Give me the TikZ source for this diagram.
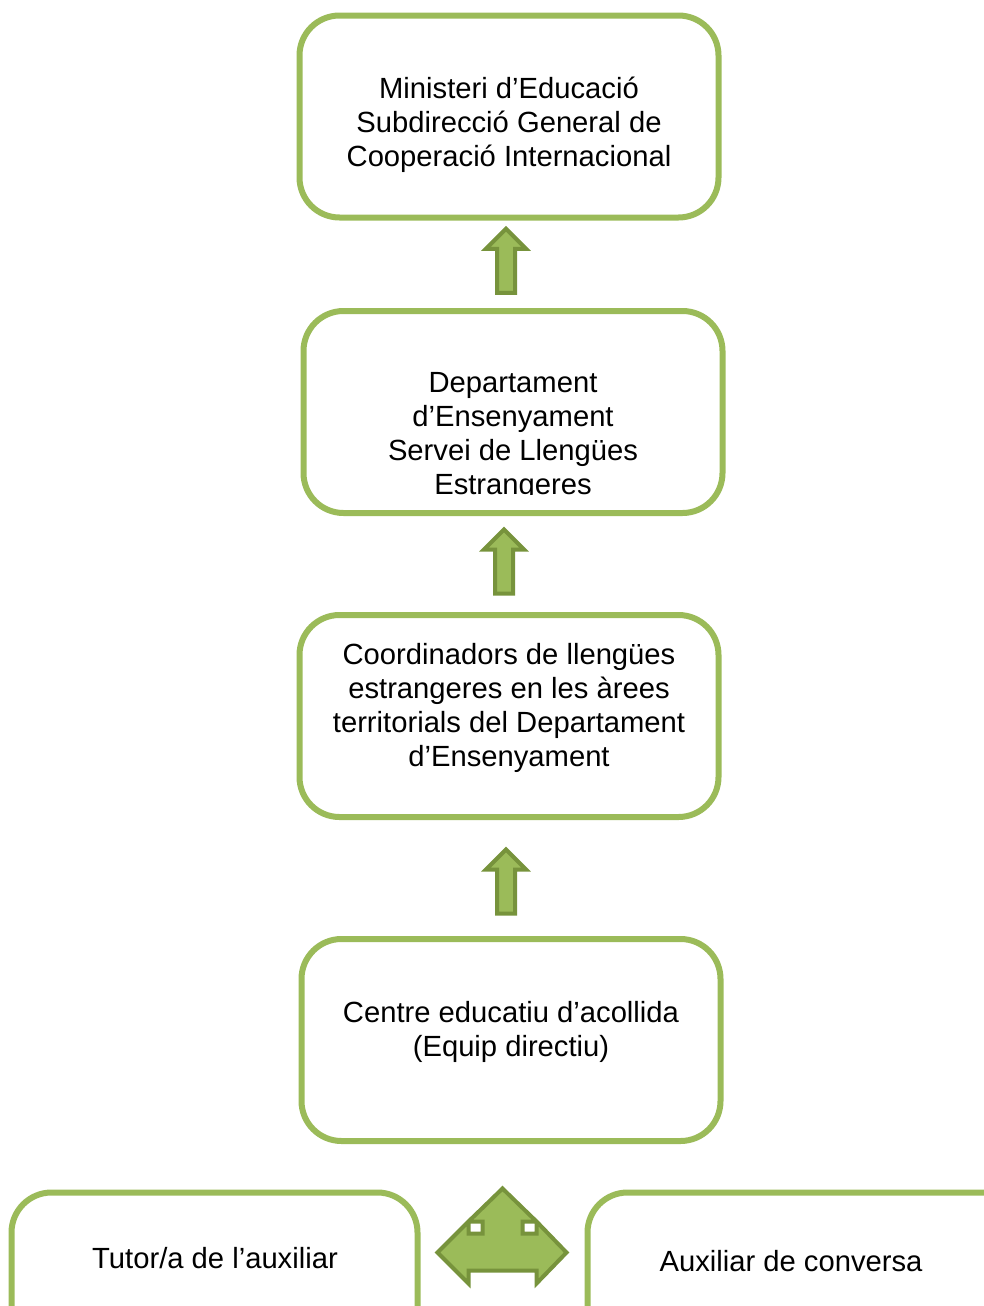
\documentclass[tikz,border=0pt]{standalone}
\usepackage{fontspec}
\setmainfont{Liberation Sans}
\usetikzlibrary{shapes.arrows,calc}
\definecolor{boxgreen}{HTML}{9BBB59}
\definecolor{arrowdark}{HTML}{77933C}
\tikzset{
  box/.style={draw=boxgreen, line width=3pt, rounded corners=20pt, inner sep=0pt,
    minimum width=209.5pt, minimum height=101pt},
  txt/.style={align=center, inner sep=0pt, font=\fontsize{14.6}{17}\selectfont},
  uparrow/.style={single arrow, draw=arrowdark, fill=boxgreen, line width=2pt,
    rotate=90, inner sep=3.5pt, minimum height=32pt, minimum width=18.5pt,
    single arrow head extend=5.5pt}
}

\begin{document}
\begin{tikzpicture}[x=0.5pt, y=-0.5pt]
\useasboundingbox (0,0) rectangle (984,1306);
\clip (0,0) rectangle (984,1306);
\node [box] (minist) at (509,116.5) {};
\node [box] (dept) at (513,412) {};
\node [box] (coord) at (509,716) {};
\node [box] (centre) at (511,1040) {};
\node [box, minimum width=203pt, minimum height=110pt] (tutor) at (214.5,1302.5) {};
\node [box, minimum width=260pt, minimum height=110pt] (auxiliar) at (847.5,1302.5) {};

\node [txt] (minist-t) at (509,125) {Ministeri d’Educació\\Subdirecció General de\\Cooperació Internacional};
\begin{scope}
\clip (304,300) rectangle (722,494);
\node [txt] (dept-t) at (513,436.5) {Departament\\d’Ensenyament\\Servei de Llengües\\Estrangeres};
\end{scope}
\node [txt] (coord-t) at (509,707.5) {Coordinadors de llengües\\estrangeres en les àrees\\territorials del Departament\\d’Ensenyament};
\node [txt] (centre-t) at (511,1031.5) {Centre educatiu d’acollida\\(Equip directiu)};
\node [txt] (tutor-t) at (215,1258) {Tutor/a de l’auxiliar};
\node [txt] (auxiliar-t) at (791,1261) {Auxiliar de conversa};

\node [uparrow] (a1) at ($(minist.south)!0.5!(dept.north)+(-5,1)$) {};
\node [uparrow] (a2) at ($(dept.south)!0.5!(coord.north)+(-7,2)$) {};
\node [uparrow] (a3) at ($(coord.south)!0.5!(centre.north)+(-4,8)$) {};

\coordinate (lru) at ($(tutor.east)!0.5!(auxiliar.west)+(0,-50)$);
\draw [draw=arrowdark, fill=boxgreen, line width=2pt, shift={(lru)}]
  (0,-64) -- (34,-31) -- (20,-31) -- (20,-19) -- (34,-19) -- (34,-31) -- (64,0)
  -- (34,31) -- (34,18) -- (-34,18) -- (-34,31) -- (-65,0) -- (-34,-31)
  -- (-34,-19) -- (-20,-19) -- (-20,-31) -- (-34,-31) -- cycle;
\end{tikzpicture}
\end{document}
